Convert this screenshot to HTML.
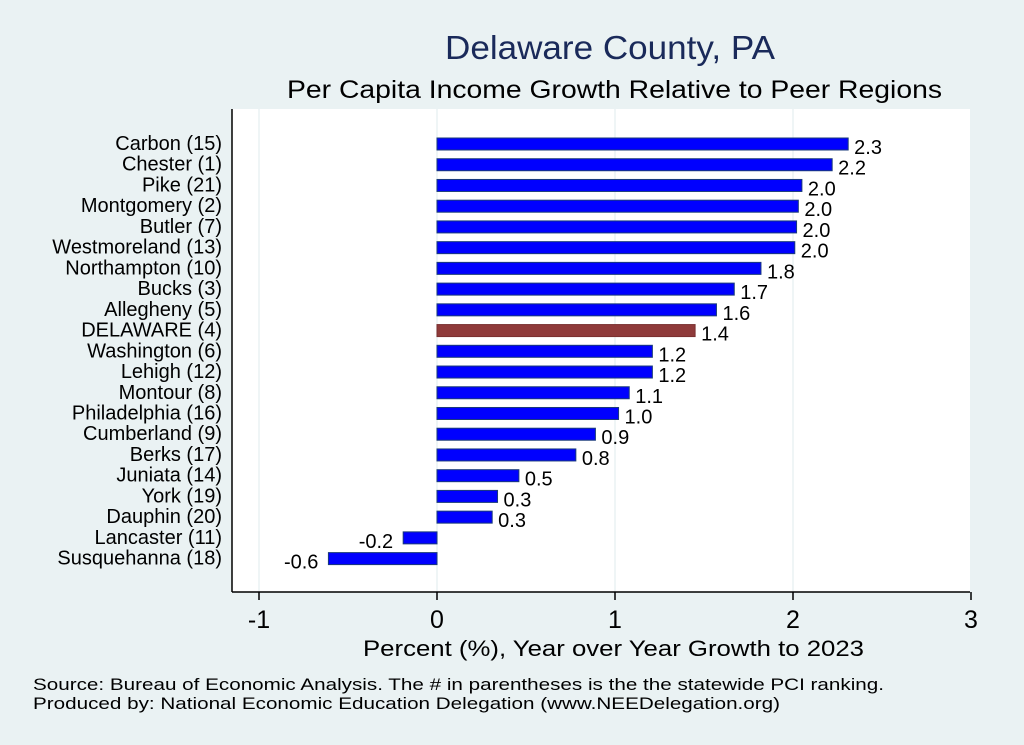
<!DOCTYPE html>
<html><head><meta charset="utf-8"><style>
body{margin:0;background:#eaf2f3;font-family:"Liberation Sans",sans-serif;}
svg{display:block}
</style></head><body>
<svg id="c" width="1024" height="745" xmlns="http://www.w3.org/2000/svg">
<rect width="1024" height="745" fill="#eaf2f3"/>
<text x="445" y="59" font-size="33" fill="#1a2a5a" textLength="330" lengthAdjust="spacingAndGlyphs">Delaware County, PA</text>
<text x="287" y="98" font-size="25" fill="#000" textLength="655" lengthAdjust="spacingAndGlyphs">Per Capita Income Growth Relative to Peer Regions</text>
<rect x="232" y="109" width="738" height="483" fill="#fff"/>
<g id="grid"></g><g id="bars"></g><g id="labels"></g><g id="xaxis"></g>
<line x1="232" y1="109" x2="232" y2="592" stroke="#000" stroke-width="1.5"/>
<line x1="232" y1="592" x2="970" y2="592" stroke="#000" stroke-width="1.5"/>
<text x="363" y="656" font-size="22" textLength="501" lengthAdjust="spacingAndGlyphs">Percent (%), Year over Year Growth to 2023</text>
<text x="33" y="690" font-size="17" textLength="851" lengthAdjust="spacingAndGlyphs">Source: Bureau of Economic Analysis. The # in parentheses is the the statewide PCI ranking.</text>
<text x="33" y="709" font-size="17" textLength="747" lengthAdjust="spacingAndGlyphs">Produced by: National Economic Education Delegation (www.NEEDelegation.org)</text>
</svg>
<script>
const categories=["Carbon (15)","Chester  (1)","Pike (21)","Montgomery  (2)","Butler  (7)","Westmoreland (13)","Northampton (10)","Bucks  (3)","Allegheny  (5)","DELAWARE  (4)","Washington  (6)","Lehigh (12)","Montour  (8)","Philadelphia (16)","Cumberland  (9)","Berks (17)","Juniata (14)","York (19)","Dauphin (20)","Lancaster (11)","Susquehanna (18)"];
const values=[2.31,2.22,2.05,2.03,2.02,2.01,1.82,1.67,1.57,1.45,1.21,1.21,1.08,1.02,0.89,0.78,0.46,0.34,0.31,-0.19,-0.61];
const xTicks=[-1,0,1,2,3];
const NS="http://www.w3.org/2000/svg";
const x=v=>437+v*178;
const y=i=>138+i*20.73;
function mk(tag,attrs,parent){const e=document.createElementNS(NS,tag);for(const k in attrs)e.setAttribute(k,attrs[k]);document.getElementById(parent).appendChild(e);return e;}
xTicks.forEach(t=>{
  const g=mk('line',{x1:x(t),x2:x(t),y1:109,y2:592,stroke:'#eaf2f3','stroke-width':1.5},'grid');
  
  
  const tk=mk('line',{x1:x(t),x2:x(t),y1:592,y2:600,stroke:'#000','stroke-width':1.5},'xaxis');
  
  
  const tl=mk('text',{x:x(t),y:628,'font-size':25,'text-anchor':'middle'},'xaxis');
  tl.textContent=t;
  
  
});
categories.forEach((c,i)=>{
  const v=values[i];
  const del=c.startsWith('DELAWARE');
  const r=mk('rect',{x:Math.min(x(0),x(v)),y:y(i),width:Math.abs(x(v)-x(0)),height:12,fill:del?'#8f3a3a':'#0000ff',stroke:del?'#7a3030':'#1a3a7a','stroke-width':1},'bars');
  
  
  const l=mk('text',{x:222,y:y(i)+12,'font-size':20,'text-anchor':'end'},'labels');
  l.textContent=c;
  
  
  const vl=mk('text',{x:v>=0?x(v)+6:x(v)-10,y:y(i)+16,'font-size':20,'text-anchor':v>=0?'start':'end'},'labels');
  vl.textContent=v.toFixed(1);
  
  
});
</script>
</body></html>
